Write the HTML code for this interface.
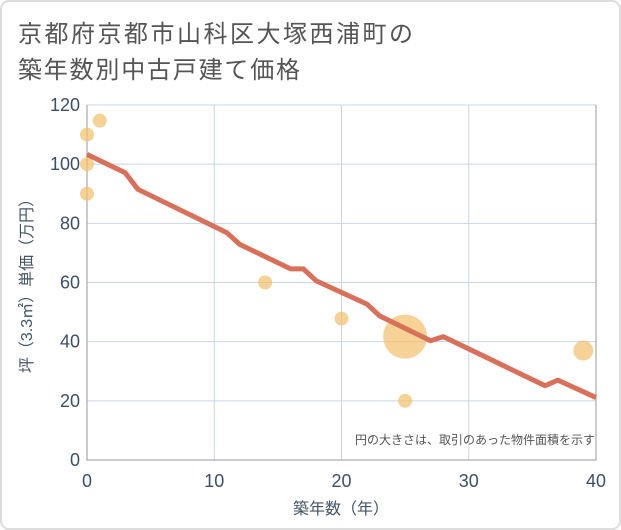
<!DOCTYPE html>
<html><head><meta charset="utf-8"><style>
body{margin:0;background:#fff}
svg{display:block;font-family:"Liberation Sans","Noto Sans CJK JP",sans-serif}
</style></head><body>
<svg id="chart" width="621" height="530" viewBox="0 0 621 530">
<rect x="1" y="1" width="619" height="528" rx="8" fill="#fff" stroke="#ddd" stroke-width="2"/>
<text x="18" y="42" font-size="24" fill="#555" textLength="395">京都府京都市山科区大塚西浦町の</text>
<text x="18" y="78" font-size="24" fill="#555" textLength="282">築年数別中古戸建て価格</text>
<g id="grid"></g>
<g id="marks"></g>
<text x="595" y="444" font-size="12" fill="#555" text-anchor="end">円の大きさは、取引のあった物件面積を示す</text>
<text x="341" y="514" font-size="16" fill="#445566" text-anchor="middle">築年数（年）</text>
<text transform="translate(32,282) rotate(-90)" font-size="16" fill="#445566" text-anchor="middle">坪（3.3㎡）単価（万円）</text>
</svg>
<script>
const xTicks=[0,10,20,30,40];
const yTicks=[0,20,40,60,80,100,120];
const lineX=[0,3,4,11,12,16,17,18,22,23,27,28,36,37,40];
const lineY=[103.3,97.1,91.5,76.8,72.9,64.6,64.6,60.6,52.7,48.7,40.3,41.7,25.1,27,21.1];
const ptX=[0,0,0,1,14,20,25,25,39];
const ptY=[110,100,90,114.7,60,47.8,41.7,20,37];
const ptR=[7,7,7,7,7,7,22,7,10];
const X0=87,X1=596,Y0=460,Y1=105;
const sx=v=>X0+(v-0)/(40-0)*(X1-X0);
const sy=v=>Y0-(v-0)/(120-0)*(Y0-Y1);
const NS="http://www.w3.org/2000/svg";
const grid=document.getElementById('grid'),marks=document.getElementById('marks');
function mk(tag,attrs,parent){const e=document.createElementNS(NS,tag);for(const k in attrs)e.setAttribute(k,attrs[k]);parent.appendChild(e);return e;}
xTicks.forEach(t=>{
  const l=mk('line',{x1:sx(t),x2:sx(t),y1:Y1,y2:Y0,stroke:'#c8d6e6','stroke-width':1},grid);
  
  
  const tx=mk('text',{x:sx(t),y:487,'font-size':18,fill:'#3d4f66','text-anchor':'middle'},grid);
  tx.textContent=t;
  
  
});
yTicks.forEach(t=>{
  const l=mk('line',{x1:X0,x2:X1,y1:sy(t),y2:sy(t),stroke:'#c8d6e6','stroke-width':1},grid);
  
  
  const tx=mk('text',{x:80,y:sy(t)+6,'font-size':18,fill:'#3d4f66','text-anchor':'end'},grid);
  tx.textContent=t;
  
  
});
const ax=mk('path',{d:`M${X0} ${Y1}V${Y0}H${X1}V${Y1}`,fill:'none',stroke:'#999','stroke-width':1},grid);


ptX.forEach((v,i)=>{
  const c=mk('circle',{cx:sx(v),cy:sy(ptY[i]),r:ptR[i],fill:'#f2bf6b','fill-opacity':0.7},marks);
  
  
});
const p=mk('polyline',{points:lineX.map((v,i)=>sx(v)+','+sy(lineY[i])).join(' '),fill:'none',stroke:'#d9705a','stroke-width':5,'stroke-linejoin':'round'},marks);


</script>
</body></html>
